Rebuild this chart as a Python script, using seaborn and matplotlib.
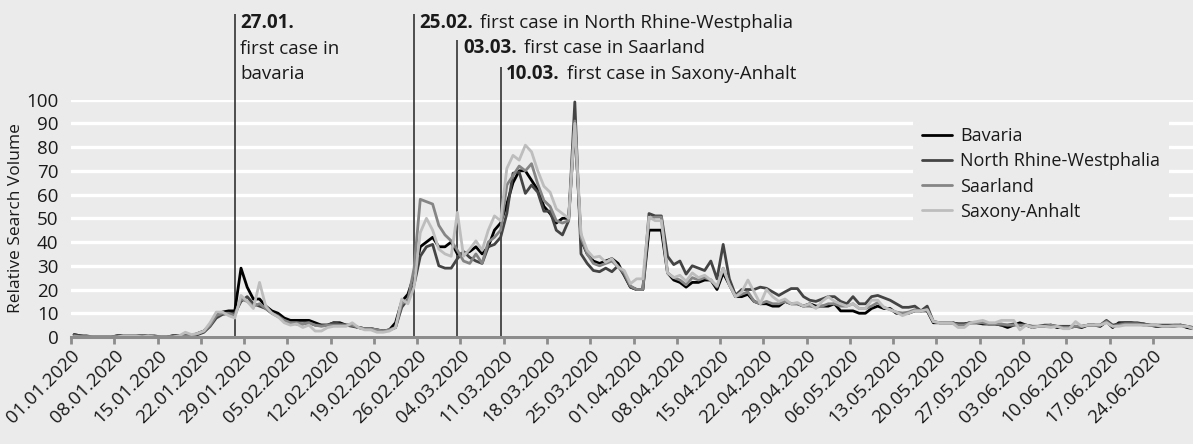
import matplotlib
matplotlib.use("Agg")
import matplotlib.pyplot as plt
import matplotlib.dates as mdates
import matplotlib.transforms as mtransforms
import numpy as np
import pandas as pd
import seaborn as sns

# daily relative search volume, 01.01.2020 - 30.06.2020
start = "2020-01-01"

bavaria = [
    1, 0.5, 0, 0, 0, 0, 0, 0.5, 0.5, 0.5,
    0.5, 0.5, 0.5, 0, 0, 0, 0.5, 0.5, 0.5, 0.5,
    1.5, 2.5, 5, 9, 10.5, 11, 11, 29, 21, 16,
    16, 13, 11, 10, 8, 7, 7, 7, 7, 6,
    5, 5, 6, 6, 5, 5, 4, 3.5, 3.5, 3,
    2.5, 3, 6, 15, 18, 26, 38, 40, 42, 38,
    38, 40, 35, 35, 36, 38, 35, 38, 45, 48,
    56, 65, 70, 70, 66, 62, 55, 52, 48, 50,
    50, 89, 41, 35, 32, 31, 32, 33, 31, 26,
    21, 20, 20, 45, 45, 45, 27, 24, 23, 21,
    23, 23, 24, 24, 20, 27, 22, 17, 17, 18,
    15, 14, 14, 13, 13, 15, 14, 14, 13, 14,
    13, 13, 13, 14, 11, 11, 11, 10, 10, 12,
    13, 12, 12, 10, 10, 10, 11, 11, 11, 6,
    6, 6, 6, 5.5, 5.5, 6, 6, 5.5, 5.5, 5.5,
    5, 4, 5, 6, 5, 4, 4.5, 4.5, 5, 4,
    4, 4, 4.5, 4, 5, 5, 4.5, 6.5, 4, 6,
    6, 6, 5.5, 5.5, 5, 4.5, 4.5, 4.5, 4.5, 5, 4, 3.5,
]
north_rhine_westphalia = [
    1, 0.5, 0.5, 0, 0, 0, 0, 0.5, 0.5, 0.5,
    0.5, 0.5, 0.5, 0.5, 0, 0, 0.5, 0.5, 0.5, 0.5,
    1, 2, 4.5, 8, 9.5, 10, 10, 15, 17, 14,
    13, 12, 10, 9, 7, 6, 5.5, 5.5, 6, 5,
    5, 5, 6, 5.5, 5, 4.5, 4, 3.5, 3.5, 3,
    2.5, 3, 4, 12.5, 16, 22, 34, 38, 39, 30,
    29, 29, 33, 36, 33.5, 32, 31, 38, 39, 42,
    52, 69, 69.5, 60.5, 64, 61, 53, 53, 45, 43,
    49, 99, 35, 31, 28, 27.5, 29, 27.5, 30, 26,
    21, 20, 20, 52, 51, 51, 34, 30.5, 32, 26.5,
    30, 29, 28, 32, 24.5, 39, 24.5, 17.6, 20, 20,
    20, 21, 20.5, 19, 17.5, 19, 20.4, 20.4, 17, 15.5,
    15, 16, 17, 17, 15, 14, 17, 14, 14, 17,
    17.5, 16.5, 15.5, 14, 12.5, 12.5, 13, 11, 13, 6.5,
    6, 6, 6, 5.5, 5.5, 6, 6, 6, 5.5, 5.5,
    5, 5, 5.5, 5, 5, 4.5, 4.5, 5, 5, 4.5,
    4.5, 4.5, 4.5, 4.5, 5, 5, 5, 7, 5, 5.5,
    6, 6, 6, 5.5, 5, 5, 5, 5, 5, 5, 4.5, 4,
]
saarland = [
    0.5, 0, 0, 0, 0, 0, 0, 0, 0.5, 0.5,
    0.5, 0.5, 0.5, 0, 0, 0, 0, 0.5, 0.5, 0.5,
    1.5, 2.5, 5, 9, 10, 10, 9, 16, 15, 13,
    14, 12, 10, 8.5, 7, 6, 6, 5.5, 6, 5,
    4.5, 5, 5, 5, 5, 5, 4, 3.5, 3.5, 3,
    2.5, 3, 4, 14, 15.5, 29, 58, 57, 56, 47,
    43, 40.5, 36.5, 32, 31, 35, 31, 40, 42, 45,
    64, 68, 72, 70, 73, 64.5, 57.5, 55, 49, 48,
    49, 91, 42, 35, 31, 30, 31, 32, 29.5, 27,
    21.5, 20, 20, 50, 50.5, 50.5, 27, 25, 24, 22,
    25, 24, 25, 24, 21, 29, 22, 17, 18, 19,
    15, 14, 15, 14, 14, 15, 14, 14, 13, 13,
    12.5, 13, 14, 14, 13, 13, 14, 12, 12, 13,
    14.5, 12.5, 11.5, 10.5, 10, 10.5, 11.5, 11, 11.5, 6.5,
    6, 6, 6, 5, 5, 6, 6, 6, 5.5, 5.5,
    5.5, 5, 5, 5, 5, 4.5, 4.5, 4.5, 5, 4.5,
    4, 4, 4.5, 4.5, 5, 5, 5, 6.5, 4.5, 5,
    5.5, 5.5, 5.5, 5, 5, 5, 4.5, 4.5, 5, 5, 4.5, 4,
]
saxony_anhalt = [
    0, 0, 0, 0, 0, 0, 0, 0, 0.5, 0.5,
    0.5, 0, 0.5, 0, 0, 0, 0, 0.5, 2, 1,
    1.5, 2.5, 6, 10.5, 10.5, 9, 8, 17.5, 15, 12,
    23, 13, 10, 8.5, 6, 5, 5.5, 4, 5, 2.5,
    2.5, 4, 4.5, 4.5, 4.5, 6, 4, 3, 3, 2,
    2, 2.5, 4, 16, 14, 21, 44, 50, 45, 37,
    35, 34, 52.5, 34, 37, 40.5, 36.5, 45, 51, 49,
    71, 76.5, 74.5, 80.8, 78, 70, 63.5, 61, 54, 52,
    50, 90, 43.5, 36.5, 33.5, 34, 31.5, 33, 29.5, 28,
    22.5, 24.5, 24.5, 50.5, 49, 49, 27, 25, 26, 23.5,
    27, 25, 26, 24, 21.5, 29, 22, 17, 19, 24,
    19, 14, 20, 17, 15, 16, 14, 14.5, 13, 14,
    12, 15, 17, 15, 14, 13, 14, 12, 12, 15.5,
    15.5, 12.5, 11.5, 10.5, 9, 10, 11, 11, 11.5, 6.5,
    6, 6, 6, 4, 4, 6, 6.5, 7, 6, 6,
    7, 7, 7, 3, 5, 4, 4.5, 4.5, 4, 4.5,
    3.5, 3.5, 6.5, 4.5, 5, 5, 5, 6, 4.5, 4.5,
    5, 5, 5, 5, 5, 5, 4.5, 4.5, 4.5, 4.5, 4.5, 3.5,
]

states = ["Bavaria", "North Rhine-Westphalia", "Saarland", "Saxony-Anhalt"]
colors = ["#000000", "#444444", "#858585", "#bdbdbd"]

event_dates = ["2020-01-27", "2020-02-25", "2020-03-03", "2020-03-10"]
event_labels = ["27.01.", "25.02.", "03.03.", "10.03."]
event_texts = ["first case in\nbavaria", "first case in North Rhine-Westphalia",
               "first case in Saarland", "first case in Saxony-Anhalt"]

BG = "#ebebeb"
INK = "#1a1a1a"
FONT = ["Open Sans", "DejaVu Sans"]
FS = 13.5

dates = pd.date_range(start, periods=len(bavaria)) + pd.Timedelta(hours=12)
df = pd.concat([
    pd.DataFrame({"date": dates, "volume": vals, "state": name})
    for name, vals in zip(states, [bavaria, north_rhine_westphalia, saarland, saxony_anhalt])
], ignore_index=True)

sns.set_theme(style="darkgrid")
plt.rcParams["font.family"] = FONT
plt.rcParams["axes.facecolor"] = BG
plt.rcParams["figure.facecolor"] = BG

fig = plt.figure(figsize=(11.93, 4.44), dpi=100)
ax = fig.add_axes([71 / 1193, 107 / 444, 1122 / 1193, 237.4 / 444])

sns.lineplot(data=df, x="date", y="volume", hue="state", hue_order=states,
             palette=dict(zip(states, colors)), lw=2, ax=ax)

ax.set_xlim(pd.Timestamp("2020-01-01"), pd.Timestamp("2020-06-30 12:00"))
ax.set_ylim(0, 100)
ax.set_yticks(np.arange(0, 101, 10))
ax.grid(axis="y", color="white", lw=2.4)
ax.grid(axis="x", visible=False)

ticks = pd.date_range("2020-01-01", "2020-06-30", freq="7D")
ax.set_xticks(ticks)
ax.xaxis.set_major_formatter(mdates.DateFormatter("%d.%m.%Y"))
offset = mtransforms.ScaledTranslation(5 / 100, -3 / 100, fig.dpi_scale_trans)
for lab in ax.get_xticklabels():
    lab.set_rotation(45)
    lab.set_ha("right")
    lab.set_va("top")
    lab.set_rotation_mode("anchor")
    lab.set_transform(lab.get_transform() + offset)
ax.tick_params(axis="x", bottom=True, length=5, width=2, color="#8c8c8c",
               labelsize=FS, labelcolor=INK, pad=2)
ax.tick_params(axis="y", left=False, labelsize=FS, labelcolor=INK, pad=3)

for side in ["top", "right", "left"]:
    ax.spines[side].set_visible(False)
ax.spines["bottom"].set_color("#8c8c8c")
ax.spines["bottom"].set_linewidth(2.2)

ax.set_xlabel("")
ax.set_ylabel("Relative Search Volume", fontsize=12.5, color=INK)
ax.yaxis.set_label_coords(-0.042, 0.5)

# event markers above the plot area
line_tops = [136.2, 136.2, 125.3, 113.7]
text_y = [132.4, 132.4, 121.7, 110.7]
for d, lab, txt, top, ty in zip(event_dates, event_labels, event_texts, line_tops, text_y):
    x = pd.Timestamp(d) + pd.Timedelta(hours=12)
    ax.vlines(x, 0, top, color="#333333", lw=1.2, clip_on=False, zorder=1)
    t = ax.annotate(lab, xy=(x, ty), xytext=(4, 0), textcoords="offset points",
                    fontsize=FS, fontweight="bold", va="center", ha="left",
                    color=INK, annotation_clip=False)
    if "\n" in txt:
        first, second = txt.split("\n")
        ax.annotate(first, xy=(x, ty - 10.9), xytext=(4, 0), textcoords="offset points",
                    fontsize=FS, va="center", ha="left", color=INK, annotation_clip=False)
        ax.annotate(second, xy=(x, ty - 21.8), xytext=(4, 0), textcoords="offset points",
                    fontsize=FS, va="center", ha="left", color=INK, annotation_clip=False)
    else:
        ax.annotate(txt, xy=(1, 0.5), xycoords=t, xytext=(5, 0),
                    textcoords="offset points", fontsize=FS, va="center",
                    ha="left", color=INK, annotation_clip=False)

leg = ax.legend(loc="upper left", bbox_to_anchor=(0.742, 0.96), fontsize=13,
                frameon=True, facecolor=BG, edgecolor="none", framealpha=1,
                handlelength=1.7, handletextpad=0.45, labelspacing=0.4,
                borderpad=0.5, title=None)
for h in leg.get_lines():
    h.set_linewidth(2)
for t in leg.get_texts():
    t.set_color(INK)

fig.savefig("out.png", dpi=100, facecolor=BG)
